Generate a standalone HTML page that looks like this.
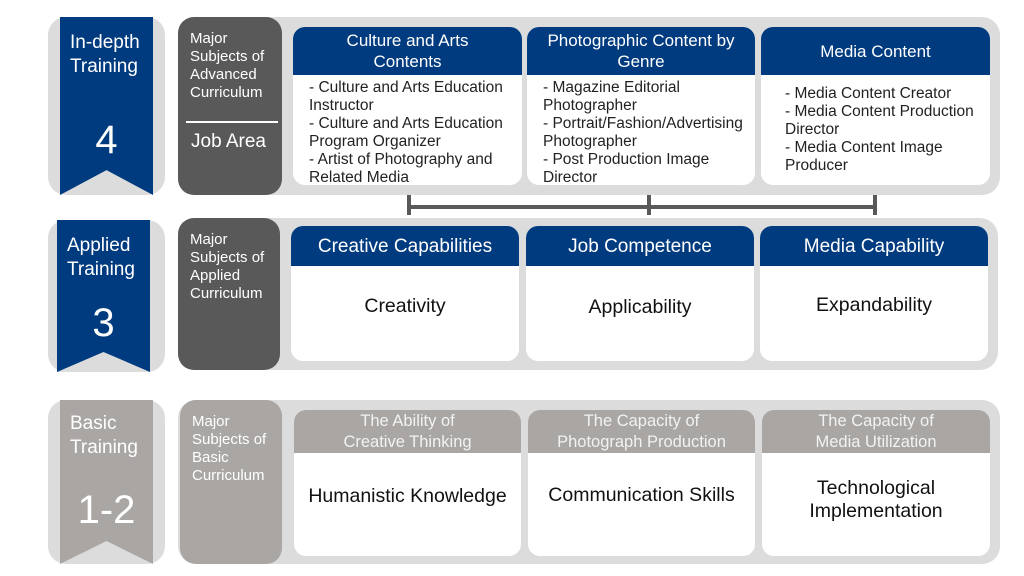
<!DOCTYPE html>
<html><head><style>
body{margin:0;width:1024px;height:576px;background:#fff;position:relative;overflow:hidden;font-family:"Liberation Sans","DejaVu Sans",sans-serif;}
.a{position:absolute;box-sizing:border-box}
.bg{background:#dcdcdc;border-radius:18px}
.rib{color:#fff;font-size:19px;line-height:24px;padding:14px 0 0 10px}
.big{position:absolute;width:100%;left:0;text-align:center;font-size:40px}
.box{border-radius:16px;color:#fff;font-size:15px;line-height:18px;padding:13px 0 0 12px;white-space:nowrap}
.card{background:#fff;border-radius:12px;overflow:hidden}
.hd{color:#fff;text-align:center;font-size:17px;line-height:21px;display:flex;align-items:center;justify-content:center;white-space:nowrap}
.bd{font-size:15.5px;line-height:18px;color:#222;padding:4px 0 0 14px;white-space:nowrap}
.ct{display:flex;align-items:center;justify-content:center;text-align:center;font-size:19.5px;color:#111}
.line{background:#595959}
</style></head><body>
<!-- Row 1 -->
<div class="a bg" style="left:48px;top:17px;width:117px;height:178px"></div>
<div class="a rib" style="left:60px;top:17px;width:93px;height:178px;background:#003b7f;clip-path:polygon(0 0,100% 0,100% 100%,50% 86%,0 100%)">In-depth<br>Training<div class="big" style="top:111px">4</div></div>
<div class="a bg" style="left:178px;top:17px;width:822px;height:178px"></div>
<div class="a box" style="left:178px;top:17px;width:104px;height:178px;background:#595959">Major<br>Subjects of<br>Advanced<br>Curriculum<div class="a" style="left:8px;top:104px;width:92px;height:2px;background:#fff"></div><div class="a" style="left:13px;top:116px;font-size:19px">Job Area</div></div>
<div class="a card" style="left:293px;top:27px;width:229px;height:158px"><div class="hd" style="height:48px;background:#003b7f">Culture and Arts<br>Contents</div><div class="bd" style="padding-left:16px">- Culture and Arts Education<br>Instructor<br>- Culture and Arts Education<br>Program Organizer<br>- Artist of Photography and<br>Related Media</div></div>
<div class="a card" style="left:527px;top:27px;width:228px;height:158px;overflow:visible"><div class="hd" style="height:48px;background:#003b7f;border-radius:12px 12px 0 0">Photographic Content by<br>Genre</div><div class="bd" style="padding-left:16px">- Magazine Editorial<br>Photographer<br>- Portrait/Fashion/Advertising<br>Photographer<br>- Post Production Image<br>Director</div></div>
<div class="a card" style="left:761px;top:27px;width:229px;height:158px"><div class="hd" style="height:48px;background:#003b7f">Media Content</div><div class="bd" style="padding:10px 0 0 24px">- Media Content Creator<br>- Media Content Production<br>Director<br>- Media Content Image<br>Producer</div></div>
<!-- connector -->
<div class="a line" style="left:407px;top:195px;width:4px;height:20px"></div>
<div class="a line" style="left:647px;top:195px;width:4px;height:20px"></div>
<div class="a line" style="left:873px;top:195px;width:4px;height:20px"></div>
<div class="a line" style="left:407px;top:205px;width:470px;height:4px"></div>
<!-- Row 2 -->
<div class="a bg" style="left:48px;top:220px;width:117px;height:152px"></div>
<div class="a rib" style="left:57px;top:220px;width:93px;height:152px;background:#003b7f;padding-top:14px">Applied<br>Training<div class="big" style="top:91px">3</div></div>
<div class="a" style="left:57px;top:352px;width:93px;height:20px;background:#dcdcdc;clip-path:polygon(0 100%,50% 0,100% 100%)"></div>
<div class="a bg" style="left:178px;top:218px;width:820px;height:152px"></div>
<div class="a box" style="left:178px;top:218px;width:102px;height:152px;background:#595959">Major<br>Subjects of<br>Applied<br>Curriculum</div>
<div class="a card" style="left:291px;top:226px;width:228px;height:135px"><div class="hd" style="height:40px;background:#003b7f;font-size:19px">Creative Capabilities</div><div class="ct" style="height:80px">Creativity</div></div>
<div class="a card" style="left:526px;top:226px;width:228px;height:135px"><div class="hd" style="height:40px;background:#003b7f;font-size:19px">Job Competence</div><div class="ct" style="height:82px">Applicability</div></div>
<div class="a card" style="left:760px;top:226px;width:228px;height:135px"><div class="hd" style="height:40px;background:#003b7f;font-size:19px">Media Capability</div><div class="ct" style="height:78px">Expandability</div></div>
<!-- Row 3 -->
<div class="a bg" style="left:48px;top:400px;width:117px;height:164px"></div>
<div class="a rib" style="left:60px;top:400px;width:93px;height:164px;background:#aaa6a4;clip-path:polygon(0 0,100% 0,100% 100%,50% 86%,0 100%);padding-top:12px">Basic<br>Training<div class="big" style="top:98px">1-2</div></div>
<div class="a bg" style="left:178px;top:400px;width:822px;height:164px"></div>
<div class="a box" style="left:180px;top:400px;width:102px;height:164px;background:#aaa6a4">Major<br>Subjects of<br>Basic<br>Curriculum</div>
<div class="a card" style="left:294px;top:410px;width:227px;height:146px"><div class="hd" style="height:43px;background:#aaa6a4;color:#f2f2f2;font-size:16.5px">The Ability of<br>Creative Thinking</div><div class="ct" style="height:86px">Humanistic Knowledge</div></div>
<div class="a card" style="left:528px;top:410px;width:227px;height:146px"><div class="hd" style="height:43px;background:#aaa6a4;color:#f2f2f2;font-size:16.5px">The Capacity of<br>Photograph Production</div><div class="ct" style="height:84px">Communication Skills</div></div>
<div class="a card" style="left:762px;top:410px;width:228px;height:146px"><div class="hd" style="height:43px;background:#aaa6a4;color:#f2f2f2;font-size:16.5px">The Capacity of<br>Media Utilization</div><div class="ct" style="height:94px;line-height:23px">Technological<br>Implementation</div></div>
</body></html>
